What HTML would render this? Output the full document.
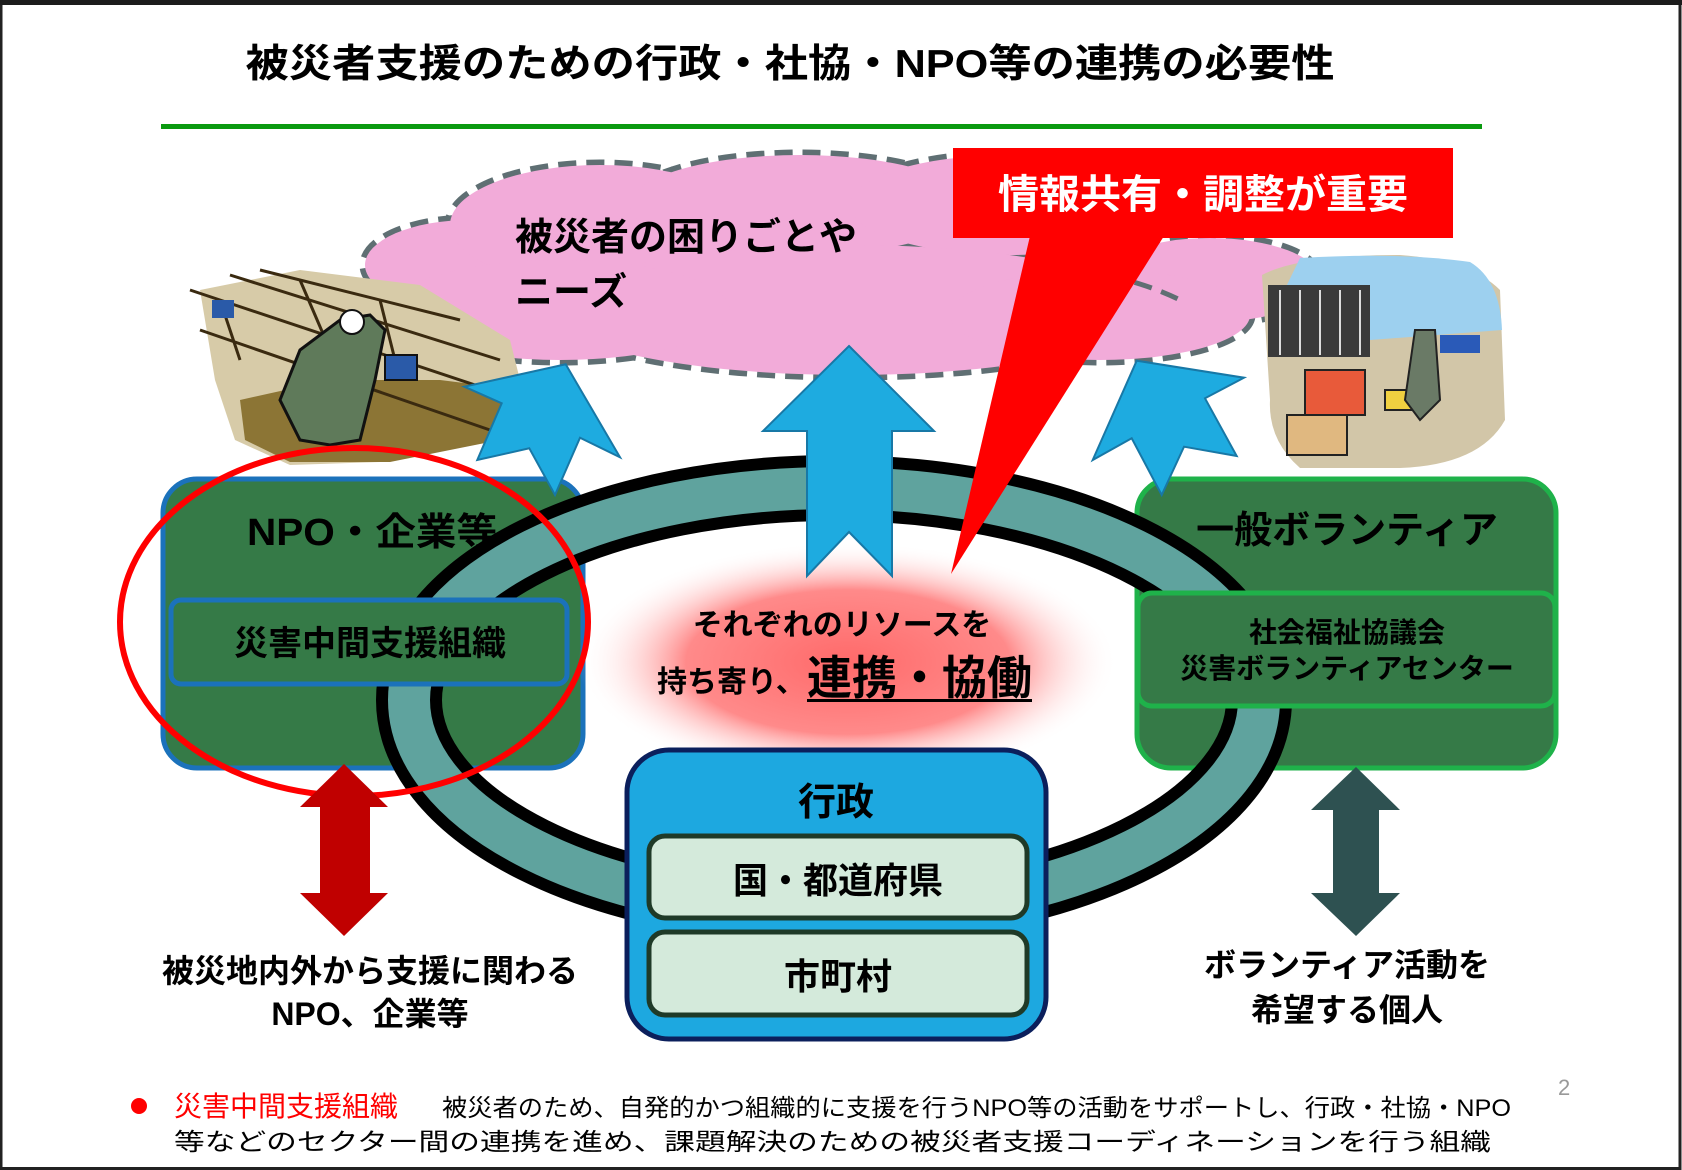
<!DOCTYPE html>
<html><head><meta charset="utf-8"><style>
html,body{margin:0;padding:0;background:#fff}
svg{display:block}
text{font-family:"Liberation Sans","Noto Sans CJK JP",sans-serif}
</style></head><body>
<svg width="1682" height="1170" viewBox="0 0 1682 1170" xmlns="http://www.w3.org/2000/svg">
<defs>
<radialGradient id="glow" cx="50%" cy="50%" r="50%">
<stop offset="0" stop-color="#ff6a6a"/>
<stop offset="0.6" stop-color="#ff8a8a"/>
<stop offset="1" stop-color="#ffffff" stop-opacity="0"/>
</radialGradient>
</defs>
<rect x="0" y="0" width="1682" height="1170" fill="#fff"/>
<rect x="1" y="2.5" width="1679" height="1166" fill="none" stroke="#222" stroke-width="3"/>
<rect x="0" y="0" width="1682" height="5" fill="#1c1c1c"/>

<text x="790" y="77" font-size="39" font-weight="bold" text-anchor="middle" textLength="1089" lengthAdjust="spacingAndGlyphs">被災者支援のための行政・社協・NPO等の連携の必要性</text>
<rect x="161" y="124" width="1321" height="5" fill="#0a9a10"/>

<!-- cloud -->
<g stroke="#5f6f73" stroke-width="11" stroke-dasharray="18 10" fill="none">
<ellipse cx="470" cy="265" rx="105" ry="45"/>
<ellipse cx="600" cy="225" rx="150" ry="60"/>
<ellipse cx="800" cy="205" rx="170" ry="50"/>
<ellipse cx="1010" cy="205" rx="160" ry="50"/>
<ellipse cx="1210" cy="280" rx="110" ry="42"/>
<ellipse cx="850" cy="310" rx="300" ry="65"/>
<ellipse cx="560" cy="310" rx="170" ry="50"/>
<ellipse cx="1100" cy="315" rx="150" ry="45"/>
</g>
<g fill="#f2abd9">
<ellipse cx="470" cy="265" rx="105" ry="45"/>
<ellipse cx="600" cy="225" rx="150" ry="60"/>
<ellipse cx="800" cy="205" rx="170" ry="50"/>
<ellipse cx="1010" cy="205" rx="160" ry="50"/>
<ellipse cx="1210" cy="280" rx="110" ry="42"/>
<ellipse cx="850" cy="310" rx="300" ry="65"/>
<ellipse cx="560" cy="310" rx="170" ry="50"/>
<ellipse cx="1100" cy="315" rx="150" ry="45"/>
</g>
<path d="M1080 270 Q1140 280 1180 300" fill="none" stroke="#5f6f73" stroke-width="5" stroke-dasharray="18 10"/>
<text x="515" y="250" font-size="38" font-weight="bold">被災者の困りごとや</text>
<text x="515" y="305" font-size="38" font-weight="bold">ニーズ</text>

<!-- left photo -->
<g>
<path d="M200 290 L300 270 L420 285 L510 340 L525 400 L480 440 L380 462 L290 465 L235 440 L215 380 Z" fill="#d7cba8"/>
<path d="M240 400 L330 380 L440 380 L520 390 L500 440 L390 462 L290 462 L245 440 Z" fill="#8c7535"/>
<g stroke="#3a2a10" stroke-width="3">
<line x1="190" y1="290" x2="520" y2="400"/><line x1="200" y1="330" x2="490" y2="430"/>
<line x1="230" y1="275" x2="500" y2="360"/><line x1="260" y1="270" x2="460" y2="320"/>
<line x1="220" y1="300" x2="240" y2="360"/><line x1="300" y1="280" x2="330" y2="350"/>
<line x1="380" y1="300" x2="400" y2="380"/>
</g>
<path d="M340 320 L370 315 L385 330 L375 380 L360 440 L330 445 L300 440 L280 400 L300 350 Z" fill="#5f7a5a" stroke="#111" stroke-width="3"/>
<circle cx="352" cy="322" r="12" fill="#fff" stroke="#111" stroke-width="2"/>
<rect x="385" y="355" width="32" height="25" fill="#2a5aa8" stroke="#111" stroke-width="2"/>
<rect x="212" y="300" width="22" height="18" fill="#2a5aa8"/>
</g>

<!-- right photo -->
<g>
<path d="M1262 275 Q1300 255 1400 255 Q1470 260 1500 290 L1505 420 Q1480 465 1400 468 L1300 468 Q1268 440 1270 400 Z" fill="#d2c6a8"/>
<path d="M1300 258 Q1400 252 1470 262 Q1500 280 1502 330 L1370 340 L1270 320 Z" fill="#9dd0ef"/>
<rect x="1268" y="285" width="102" height="72" fill="#3a3a3a"/>
<g stroke="#ddd" stroke-width="2"><line x1="1280" y1="290" x2="1280" y2="355"/><line x1="1300" y1="290" x2="1300" y2="355"/><line x1="1320" y1="290" x2="1320" y2="355"/><line x1="1340" y1="290" x2="1340" y2="355"/><line x1="1360" y1="290" x2="1360" y2="355"/></g>
<rect x="1305" y="370" width="60" height="45" fill="#e85a3a" stroke="#222" stroke-width="2"/>
<rect x="1287" y="415" width="60" height="40" fill="#e0b880" stroke="#222" stroke-width="2"/>
<rect x="1385" y="390" width="30" height="20" fill="#f0d040" stroke="#222" stroke-width="2"/>
<rect x="1440" y="335" width="40" height="18" fill="#2a5ab8"/>
<path d="M1415 330 L1435 330 L1440 400 L1420 420 L1405 400 Z" fill="#6a7a66" stroke="#222" stroke-width="2"/>
</g>

<!-- outer boxes -->
<rect x="163" y="479" width="420" height="289" rx="34" fill="#357a47" stroke="#1b72bb" stroke-width="5"/>
<rect x="1137" y="479" width="419" height="289" rx="34" fill="#357a47" stroke="#1fb24a" stroke-width="5"/>

<!-- ring -->
<ellipse cx="834" cy="700" rx="425" ry="212" fill="none" stroke="#000" stroke-width="66"/>
<ellipse cx="834" cy="700" rx="425" ry="212" fill="none" stroke="#5fa39e" stroke-width="42"/>

<!-- glow -->
<ellipse cx="848" cy="662" rx="270" ry="120" fill="url(#glow)"/>
<text x="842" y="635" font-size="30" font-weight="bold" text-anchor="middle">それぞれのリソースを</text>
<text x="657" y="692" font-size="30" font-weight="bold">持ち寄り、</text>
<text x="807" y="694" font-size="46" font-weight="bold" textLength="225" lengthAdjust="spacingAndGlyphs">連携・協働</text>
<rect x="807" y="699" width="225" height="3" fill="#000"/>

<!-- left box content -->
<text x="372" y="545" font-size="38" font-weight="bold" text-anchor="middle" textLength="250" lengthAdjust="spacingAndGlyphs">NPO・企業等</text>
<rect x="171" y="600" width="396" height="84" rx="10" fill="#357a47" stroke="#1b72bb" stroke-width="5"/>
<text x="370" y="655" font-size="34" font-weight="bold" text-anchor="middle">災害中間支援組織</text>

<!-- right box content -->
<text x="1347" y="543" font-size="38" font-weight="bold" text-anchor="middle">一般ボランティア</text>
<rect x="1138" y="593" width="417" height="113" rx="14" fill="#357a47" stroke="#1fb24a" stroke-width="5"/>
<text x="1347" y="642" font-size="28" font-weight="bold" text-anchor="middle">社会福祉協議会</text>
<text x="1347" y="678" font-size="28" font-weight="bold" text-anchor="middle">災害ボランティアセンター</text>

<!-- blue arrows -->
<g fill="#1eabe0" stroke="#1878a6" stroke-width="2">
<polygon points="849,346 934,431 892,431 892,576 849,532 807,576 807,431 763,431"/>
<polygon points="565.7,364.3 620,457.3 580,437.7 555,495 529.3,448.3 477.3,460 501.7,403.3 464.3,386.7"/>
<polygon points="1136.7,360.7 1244,377.7 1205,398.3 1236.7,456 1184,446.7 1161.7,495 1131.7,438.3 1092.7,460"/>
</g>

<!-- callout -->
<polygon points="1030,236 1164,236 951,574" fill="#ff0000"/>
<rect x="953" y="148" width="500" height="90" fill="#ff0000"/>
<text x="1203" y="208" font-size="40" font-weight="bold" fill="#fff" text-anchor="middle" textLength="410" lengthAdjust="spacingAndGlyphs">情報共有・調整が重要</text>

<!-- gyosei -->
<rect x="627" y="750" width="419" height="289" rx="42" fill="#1da8e0" stroke="#0b1f5c" stroke-width="5"/>
<text x="836" y="815" font-size="38" font-weight="bold" text-anchor="middle">行政</text>
<rect x="649" y="836" width="378" height="82" rx="16" fill="#d4eadb" stroke="#1f3a28" stroke-width="5"/>
<text x="838" y="893" font-size="36" font-weight="bold" text-anchor="middle" textLength="210" lengthAdjust="spacingAndGlyphs">国・都道府県</text>
<rect x="649" y="932" width="378" height="83" rx="16" fill="#d4eadb" stroke="#1f3a28" stroke-width="5"/>
<text x="838" y="989" font-size="36" font-weight="bold" text-anchor="middle">市町村</text>

<!-- red ellipse -->
<ellipse cx="354" cy="622" rx="234" ry="174" fill="none" stroke="#ff0000" stroke-width="6"/>

<!-- double arrows -->
<polygon points="344,764 388,807 370,807 370,893 388,893 344,936 300,893 320,893 320,807 300,807" fill="#c00000"/>
<polygon points="1356,767 1400,810 1379,810 1379,893 1400,893 1356,936 1311,893 1333,893 1333,810 1311,810" fill="#2e5151"/>

<text x="370" y="982" font-size="32" font-weight="bold" text-anchor="middle">被災地内外から支援に関わる</text>
<text x="370" y="1025" font-size="32" font-weight="bold" text-anchor="middle">NPO、企業等</text>
<text x="1347" y="976" font-size="32" font-weight="bold" text-anchor="middle">ボランティア活動を</text>
<text x="1347" y="1021" font-size="32" font-weight="bold" text-anchor="middle">希望する個人</text>

<!-- footer -->
<circle cx="139" cy="1106" r="8" fill="#ff0000"/>
<text x="174" y="1116" font-size="28" fill="#ff0000">災害中間支援組織</text>
<text x="442" y="1116" font-size="24" textLength="1069" lengthAdjust="spacingAndGlyphs">被災者のため、自発的かつ組織的に支援を行うNPO等の活動をサポートし、行政・社協・NPO</text>
<text x="174" y="1150" font-size="24" textLength="1317" lengthAdjust="spacingAndGlyphs">等などのセクター間の連携を進め、課題解決のための被災者支援コーディネーションを行う組織</text>
<text x="1558" y="1095" font-size="22" fill="#999">2</text>
</svg>
</body></html>
